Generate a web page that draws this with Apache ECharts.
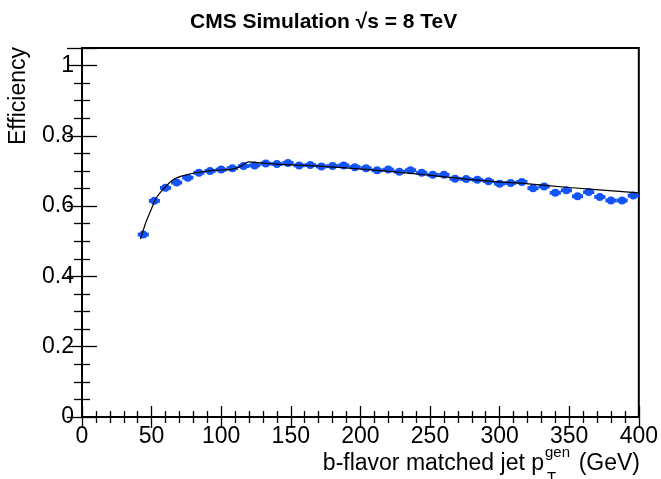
<!DOCTYPE html>
<html>
<head>
<meta charset="utf-8">
<script src="https://cdn.jsdelivr.net/npm/echarts@6/dist/echarts.min.js"></script>
<style>
  html, body { margin: 0; padding: 0; background: #fff; }
  #chart { width: 661px; height: 479px; }
</style>
</head>
<body>
<div id="chart"></div>
<script>
// bin centres (GeV) and efficiencies
var ptBins = [44, 52, 60, 68, 76, 84, 92, 100, 108, 116, 124, 132, 140, 148, 156,
  164, 172, 180, 188, 196, 204, 212, 220, 228, 236, 244, 252, 260, 268, 276,
  284, 292, 300, 308, 316, 324, 332, 340, 348, 356, 364, 372, 380, 388, 396]
var effValues = [0.519, 0.615, 0.652, 0.667, 0.681, 0.695, 0.700, 0.704, 0.708, 0.714,
  0.716, 0.721, 0.720, 0.723, 0.716, 0.717, 0.713, 0.714, 0.716, 0.711,
  0.708, 0.702, 0.704, 0.698, 0.702, 0.695, 0.689, 0.689, 0.678, 0.677,
  0.675, 0.671, 0.664, 0.666, 0.669, 0.651, 0.656, 0.638, 0.645, 0.628,
  0.640, 0.626, 0.616, 0.616, 0.630]
var binHalfWidth = 4

// fitted curve
var fitX = [42, 46, 50, 53, 58, 65, 72, 82, 94, 106, 113, 120, 126, 135, 142, 170, 206, 240, 278, 300, 319, 350, 400]
var fitY = [0.506, 0.555, 0.593, 0.621, 0.647, 0.674, 0.686, 0.695, 0.702, 0.704, 0.711, 0.726, 0.724, 0.721, 0.719, 0.714, 0.704, 0.692, 0.676, 0.669, 0.664, 0.653, 0.638]

var font = "'Liberation Sans', Arial, Helvetica, sans-serif"
var blue = '#1254f7'

var chart = echarts.init(document.getElementById('chart'))

function xAxis(pos, show) {
  return {
    type: 'value', position: pos, min: 0, max: 400, interval: 50,
    axisLine: { show: false },
    axisTick: { show: true, inside: true, length: 11, lineStyle: { color: '#000', width: 1.3 } },
    minorTick: { show: true, splitNumber: 5, length: 6, lineStyle: { color: '#000', width: 1.3 } },
    splitLine: { show: false },
    axisLabel: { show: show, color: '#000', fontFamily: font, fontSize: 23, margin: 8 }
  }
}
function yAxis(pos, show) {
  return {
    type: 'value', position: pos, min: 0, max: 1.05, interval: 0.2,
    axisLine: { show: false },
    axisTick: { show: true, inside: true, length: 15, lineStyle: { color: '#000', width: 1.3 } },
    minorTick: { show: true, splitNumber: 4, length: 8, lineStyle: { color: '#000', width: 1.3 } },
    splitLine: { show: false },
    axisLabel: { show: show, color: '#000', fontFamily: font, fontSize: 23, margin: 8,
      showMaxLabel: false,
      formatter: function (v) { return String(Math.round(v * 10) / 10) } }
  }
}

var option = {
  backgroundColor: '#fff',
  animation: false,
  title: {
    text: 'CMS Simulation √s = 8 TeV',
    left: 185, top: 7,
    textStyle: { fontFamily: font, fontSize: 21, fontWeight: 'bold', color: '#000' }
  },
  grid: { left: 82, right: 22, top: 48, bottom: 62, show: true, borderColor: '#000', borderWidth: 2, backgroundColor: 'transparent' },
  xAxis: [xAxis('bottom', true), xAxis('top', false)],
  yAxis: [yAxis('left', true), yAxis('right', false)],
  graphic: [
    { type: 'text', x: 19, y: 47, rotation: Math.PI / 2,
      style: { text: 'Efficiency', font: '23px ' + font, fill: '#000', align: 'right', verticalAlign: 'middle' } },
    { type: 'text', x: 544, y: 464,
      style: { text: 'b-flavor matched jet p', font: '23px ' + font, fill: '#000', align: 'right', verticalAlign: 'middle' } },
    { type: 'text', x: 545, y: 453,
      style: { text: 'gen', font: '15px ' + font, fill: '#000', align: 'left', verticalAlign: 'middle' } },
    { type: 'text', x: 547, y: 478,
      style: { text: 'T', font: '15px ' + font, fill: '#000', align: 'left', verticalAlign: 'middle' } },
    { type: 'text', x: 640, y: 464,
      style: { text: '(GeV)', font: '23px ' + font, fill: '#000', align: 'right', verticalAlign: 'middle' } }
  ],
  series: [
    {
      type: 'custom',
      data: ptBins.map(function (x, i) { return [x, effValues[i]] }),
      renderItem: function (params, api) {
        var x = api.value(0), y = api.value(1)
        var p = api.coord([x, y])
        var l = api.coord([x - binHalfWidth, y])
        var r = api.coord([x + binHalfWidth, y])
        return {
          type: 'group',
          children: [
            { type: 'line', shape: { x1: l[0], y1: l[1], x2: r[0], y2: r[1] }, style: { stroke: blue, lineWidth: 3.8 } },
            { type: 'circle', shape: { cx: p[0], cy: p[1], r: 4 }, style: { fill: blue } }
          ]
        }
      },
      z: 2
    },
    {
      type: 'line',
      data: fitX.map(function (x, i) { return [x, fitY[i]] }),
      smooth: 0.3,
      showSymbol: false,
      lineStyle: { color: '#000', width: 1.2 },
      z: 3
    }
  ]
}

chart.setOption(option)
window.addEventListener('resize', function () { chart.resize() })
</script>
</body>
</html>
